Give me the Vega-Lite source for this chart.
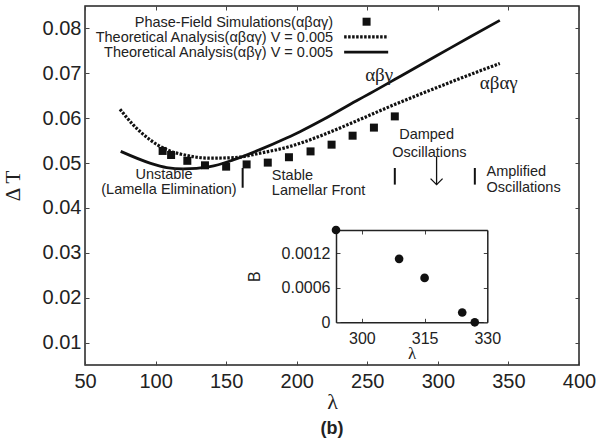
{
  "$schema": "https://vega.github.io/schema/vega-lite/v6.json",
  "width": 494,
  "height": 359,
  "autosize": {"type": "none"},
  "padding": {"left": 85, "top": 6, "right": 20, "bottom": 81},
  "background": "white",
  "config": {
    "view": {"stroke": "#222", "strokeWidth": 1.5},
    "font": "Liberation Sans",
    "axis": {"grid": false, "labelColor": "#222", "tickColor": "#444", "titleColor": "#222", "domainColor": "#222", "labelFlush": false, "labelOverlap": false},
    "text": {"color": "#222", "font": "Liberation Sans", "fontSize": 14.5}
  },
  "title": {"text": "(b)", "orient": "bottom", "anchor": "middle", "fontSize": 18, "fontWeight": "bold", "font": "Liberation Sans", "color": "#222", "offset": 8},
  "datasets": {
    "solid": [
      {"lambda": 75.3, "dT": 0.0526},
      {"lambda": 96.0, "dT": 0.0500},
      {"lambda": 107.9, "dT": 0.0490},
      {"lambda": 119.6, "dT": 0.0487},
      {"lambda": 138.5, "dT": 0.0492},
      {"lambda": 155.0, "dT": 0.0507},
      {"lambda": 173.9, "dT": 0.0530},
      {"lambda": 192.8, "dT": 0.0556},
      {"lambda": 202.3, "dT": 0.0570},
      {"lambda": 218.8, "dT": 0.0597},
      {"lambda": 242.4, "dT": 0.0639},
      {"lambda": 251.8, "dT": 0.0655},
      {"lambda": 275.4, "dT": 0.0697},
      {"lambda": 299.1, "dT": 0.0739},
      {"lambda": 322.7, "dT": 0.0781},
      {"lambda": 343.9, "dT": 0.0818}
    ],
    "dotted": [
      {"lambda": 74.8, "dT": 0.0620},
      {"lambda": 84.2, "dT": 0.0585},
      {"lambda": 96.0, "dT": 0.0552},
      {"lambda": 107.9, "dT": 0.0530},
      {"lambda": 122.0, "dT": 0.0517},
      {"lambda": 138.5, "dT": 0.0511},
      {"lambda": 155.0, "dT": 0.0512},
      {"lambda": 173.9, "dT": 0.0522},
      {"lambda": 195.2, "dT": 0.0537},
      {"lambda": 218.8, "dT": 0.0563},
      {"lambda": 242.4, "dT": 0.0594},
      {"lambda": 266.0, "dT": 0.0626},
      {"lambda": 299.1, "dT": 0.0668},
      {"lambda": 322.7, "dT": 0.0697},
      {"lambda": 343.9, "dT": 0.0722}
    ],
    "sim": [
      {"lambda": 105, "dT": 0.0527},
      {"lambda": 111, "dT": 0.0518},
      {"lambda": 122.5, "dT": 0.0505},
      {"lambda": 135, "dT": 0.0495},
      {"lambda": 150, "dT": 0.0492},
      {"lambda": 164.5, "dT": 0.0497},
      {"lambda": 179.5, "dT": 0.0501},
      {"lambda": 194.5, "dT": 0.0513},
      {"lambda": 209.8, "dT": 0.0526},
      {"lambda": 224.7, "dT": 0.0541},
      {"lambda": 239.6, "dT": 0.0561},
      {"lambda": 254.7, "dT": 0.0579},
      {"lambda": 269.5, "dT": 0.0604}
    ],
    "inset": [
      {"lambda": 293.8, "B": 0.0016},
      {"lambda": 308.9, "B": 0.0011},
      {"lambda": 315.0, "B": 0.00077},
      {"lambda": 324.0, "B": 0.00017},
      {"lambda": 327.0, "B": 0.0}
    ],
    "one": [{}]
  },
  "layer": [
    {
      "layer": [
        {
          "data": {"name": "dotted"},
          "mark": {"type": "line", "color": "#111", "strokeWidth": 3.2, "strokeDash": [2.5, 1.5], "interpolate": "monotone"},
          "encoding": {
            "x": {"field": "lambda", "type": "quantitative",
              "scale": {"domain": [50, 400], "nice": false, "zero": false},
              "axis": {"orient": "bottom", "values": [50, 100, 150, 200, 250, 300, 350, 400], "domain": false, "tickSize": -4, "labelFontSize": 20, "labelPadding": 10, "title": "λ", "titleFont": "Liberation Serif", "titleFontSize": 22, "titleFontWeight": "normal", "titlePadding": 0}},
            "y": {"field": "dT", "type": "quantitative",
              "scale": {"domain": [0.005, 0.085], "nice": false, "zero": false},
              "axis": {"orient": "left", "values": [0.01, 0.02, 0.03, 0.04, 0.05, 0.06, 0.07, 0.08], "format": ".2f", "domain": false, "tickSize": -4, "labelFontSize": 20, "labelPadding": 8, "title": "Δ T", "titleFont": "Liberation Serif", "titleFontSize": 21, "titleFontWeight": "normal", "titlePadding": 19}}
          }
        },
        {
          "data": {"name": "solid"},
          "mark": {"type": "line", "color": "#111", "strokeWidth": 2.8, "interpolate": "monotone"},
          "encoding": {
            "x": {"field": "lambda", "type": "quantitative", "axis": null},
            "y": {"field": "dT", "type": "quantitative", "axis": null}
          }
        },
        {
          "data": {"name": "sim"},
          "mark": {"type": "point", "shape": "square", "filled": true, "size": 64, "color": "#111", "opacity": 1},
          "encoding": {
            "x": {"field": "lambda", "type": "quantitative", "axis": null},
            "y": {"field": "dT", "type": "quantitative", "axis": null}
          }
        },
        {
          "data": {"name": "sim"},
          "mark": {"type": "point", "opacity": 0},
          "encoding": {
            "x": {"field": "lambda", "type": "quantitative", "axis": {"orient": "top", "values": [50, 100, 150, 200, 250, 300, 350, 400], "labels": false, "domain": false, "tickSize": -4, "title": null}},
            "y": {"field": "dT", "type": "quantitative", "axis": {"orient": "right", "values": [0.01, 0.02, 0.03, 0.04, 0.05, 0.06, 0.07, 0.08], "labels": false, "domain": false, "tickSize": -4, "title": null}}
          }
        },
        {
          "data": {"name": "one"},
          "mark": {"type": "text", "align": "right", "baseline": "middle"},
          "encoding": {
            "x": {"datum": 225.8, "type": "quantitative", "axis": null},
            "y": {"datum": 0.0812, "type": "quantitative", "axis": null},
            "text": {"datum": "Phase-Field Simulations(αβαγ)"}
          }
        },
        {
          "data": {"name": "one"},
          "mark": {"type": "text", "align": "right", "baseline": "middle"},
          "encoding": {
            "x": {"datum": 225.8, "type": "quantitative", "axis": null},
            "y": {"datum": 0.0778, "type": "quantitative", "axis": null},
            "text": {"datum": "Theoretical Analysis(αβαγ) V = 0.005"}
          }
        },
        {
          "data": {"name": "one"},
          "mark": {"type": "text", "align": "right", "baseline": "middle"},
          "encoding": {
            "x": {"datum": 225.8, "type": "quantitative", "axis": null},
            "y": {"datum": 0.0746, "type": "quantitative", "axis": null},
            "text": {"datum": "Theoretical Analysis(αβγ) V = 0.005"}
          }
        },
        {
          "data": {"name": "one"},
          "mark": {"type": "point", "shape": "square", "filled": true, "size": 64, "color": "#111", "opacity": 1},
          "encoding": {
            "x": {"datum": 249.5, "type": "quantitative", "axis": null},
            "y": {"datum": 0.0815, "type": "quantitative", "axis": null}
          }
        },
        {
          "data": {"name": "one"},
          "mark": {"type": "rule", "color": "#111", "strokeWidth": 3.2, "strokeDash": [2.5, 1.5]},
          "encoding": {
            "x": {"datum": 233.6, "type": "quantitative", "axis": null},
            "x2": {"datum": 264.8},
            "y": {"datum": 0.0781, "type": "quantitative", "axis": null}
          }
        },
        {
          "data": {"name": "one"},
          "mark": {"type": "rule", "color": "#111", "strokeWidth": 2.8},
          "encoding": {
            "x": {"datum": 233.6, "type": "quantitative", "axis": null},
            "x2": {"datum": 264.8},
            "y": {"datum": 0.0747, "type": "quantitative", "axis": null}
          }
        },
        {
          "data": {"name": "one"},
          "mark": {"type": "text", "align": "center", "baseline": "middle", "font": "Liberation Serif", "fontSize": 19},
          "encoding": {
            "x": {"datum": 258.4, "type": "quantitative", "axis": null},
            "y": {"datum": 0.0696, "type": "quantitative", "axis": null},
            "text": {"datum": "αβγ"}
          }
        },
        {
          "data": {"name": "one"},
          "mark": {"type": "text", "align": "left", "baseline": "middle", "font": "Liberation Serif", "fontSize": 19},
          "encoding": {
            "x": {"datum": 329.7, "type": "quantitative", "axis": null},
            "y": {"datum": 0.0678, "type": "quantitative", "axis": null},
            "text": {"datum": "αβαγ"}
          }
        },
        {
          "data": {"name": "one"},
          "mark": {"type": "text", "align": "center", "baseline": "middle"},
          "encoding": {
            "x": {"datum": 106, "type": "quantitative", "axis": null},
            "y": {"datum": 0.0473, "type": "quantitative", "axis": null},
            "text": {"datum": "Unstable"}
          }
        },
        {
          "data": {"name": "one"},
          "mark": {"type": "text", "align": "center", "baseline": "middle"},
          "encoding": {
            "x": {"datum": 109.5, "type": "quantitative", "axis": null},
            "y": {"datum": 0.0440, "type": "quantitative", "axis": null},
            "text": {"datum": "(Lamella Elimination)"}
          }
        },
        {
          "data": {"name": "one"},
          "mark": {"type": "text", "align": "left", "baseline": "middle"},
          "encoding": {
            "x": {"datum": 182.4, "type": "quantitative", "axis": null},
            "y": {"datum": 0.0472, "type": "quantitative", "axis": null},
            "text": {"datum": "Stable"}
          }
        },
        {
          "data": {"name": "one"},
          "mark": {"type": "text", "align": "left", "baseline": "middle"},
          "encoding": {
            "x": {"datum": 182.4, "type": "quantitative", "axis": null},
            "y": {"datum": 0.0437, "type": "quantitative", "axis": null},
            "text": {"datum": "Lamellar Front"}
          }
        },
        {
          "data": {"name": "one"},
          "mark": {"type": "text", "align": "center", "baseline": "middle"},
          "encoding": {
            "x": {"datum": 292, "type": "quantitative", "axis": null},
            "y": {"datum": 0.0563, "type": "quantitative", "axis": null},
            "text": {"datum": "Damped"}
          }
        },
        {
          "data": {"name": "one"},
          "mark": {"type": "text", "align": "center", "baseline": "middle"},
          "encoding": {
            "x": {"datum": 294, "type": "quantitative", "axis": null},
            "y": {"datum": 0.0522, "type": "quantitative", "axis": null},
            "text": {"datum": "Oscillations"}
          }
        },
        {
          "data": {"name": "one"},
          "mark": {"type": "text", "align": "left", "baseline": "middle"},
          "encoding": {
            "x": {"datum": 334.5, "type": "quantitative", "axis": null},
            "y": {"datum": 0.0481, "type": "quantitative", "axis": null},
            "text": {"datum": "Amplified"}
          }
        },
        {
          "data": {"name": "one"},
          "mark": {"type": "text", "align": "left", "baseline": "middle"},
          "encoding": {
            "x": {"datum": 334.5, "type": "quantitative", "axis": null},
            "y": {"datum": 0.0444, "type": "quantitative", "axis": null},
            "text": {"datum": "Oscillations"}
          }
        },
        {
          "data": {"name": "one"},
          "mark": {"type": "rule", "color": "#111", "strokeWidth": 2},
          "encoding": {
            "x": {"datum": 161.7, "type": "quantitative", "axis": null},
            "y": {"datum": 0.0489, "type": "quantitative", "axis": null},
            "y2": {"datum": 0.0445}
          }
        },
        {
          "data": {"name": "one"},
          "mark": {"type": "rule", "color": "#111", "strokeWidth": 2},
          "encoding": {
            "x": {"datum": 269.5, "type": "quantitative", "axis": null},
            "y": {"datum": 0.0489, "type": "quantitative", "axis": null},
            "y2": {"datum": 0.0452}
          }
        },
        {
          "data": {"name": "one"},
          "mark": {"type": "rule", "color": "#111", "strokeWidth": 2},
          "encoding": {
            "x": {"datum": 326.2, "type": "quantitative", "axis": null},
            "y": {"datum": 0.0489, "type": "quantitative", "axis": null},
            "y2": {"datum": 0.0452}
          }
        },
        {
          "data": {"name": "one"},
          "mark": {"type": "rule", "color": "#111", "strokeWidth": 1.3},
          "encoding": {
            "x": {"datum": 299.1, "type": "quantitative", "axis": null},
            "y": {"datum": 0.0515, "type": "quantitative", "axis": null},
            "y2": {"datum": 0.0452}
          }
        },
        {
          "data": {"name": "one"},
          "mark": {"type": "point", "shape": "M-1,-1L0,0L1,-1", "filled": false, "size": 144, "color": "#111", "strokeWidth": 1.3, "opacity": 1},
          "encoding": {
            "x": {"datum": 299.1, "type": "quantitative", "axis": null},
            "y": {"datum": 0.0452, "type": "quantitative", "axis": null}
          }
        }
      ],
      "resolve": {"axis": {"x": "independent", "y": "independent"}}
    },
    {
      "layer": [
        {
          "data": {"name": "inset"},
          "mark": {"type": "point", "shape": "circle", "filled": true, "size": 75, "color": "#111", "opacity": 1},
          "encoding": {
            "x": {"field": "lambda", "type": "quantitative",
              "scale": {"domain": [293.8, 330], "range": [251, 402.3], "nice": false, "zero": false},
              "axis": {"orient": "bottom", "offset": -42.7, "values": [300, 315, 330], "tickSize": -4, "labelFontSize": 16, "labelPadding": 12, "domainWidth": 1.5, "title": "λ", "titleFont": "Liberation Serif", "titleFontSize": 17, "titleFontWeight": "normal", "titlePadding": -1}},
            "y": {"field": "B", "type": "quantitative",
              "scale": {"domain": [0, 0.0016], "range": [316.3, 224], "nice": false, "zero": false},
              "axis": {"orient": "left", "offset": -251, "values": [0, 0.0006, 0.0012], "format": ".4~f", "tickSize": -4, "labelFontSize": 16, "labelPadding": 10, "domainWidth": 1.5, "title": "B", "titleFontSize": 16, "titleFontWeight": "normal", "titlePadding": 19}}
          }
        },
        {
          "data": {"name": "inset"},
          "mark": {"type": "point", "opacity": 0},
          "encoding": {
            "x": {"field": "lambda", "type": "quantitative",
              "axis": {"orient": "top", "offset": -224, "values": [300, 315, 330], "tickSize": -4, "labels": false, "domainWidth": 1.5, "title": null}},
            "y": {"field": "B", "type": "quantitative",
              "axis": {"orient": "right", "offset": -91.7, "values": [0, 0.0006, 0.0012], "tickSize": -4, "labels": false, "domainWidth": 1.5, "title": null}}
          }
        }
      ],
      "resolve": {"axis": {"x": "independent", "y": "independent"}}
    }
  ],
  "resolve": {"scale": {"x": "independent", "y": "independent"}}
}
